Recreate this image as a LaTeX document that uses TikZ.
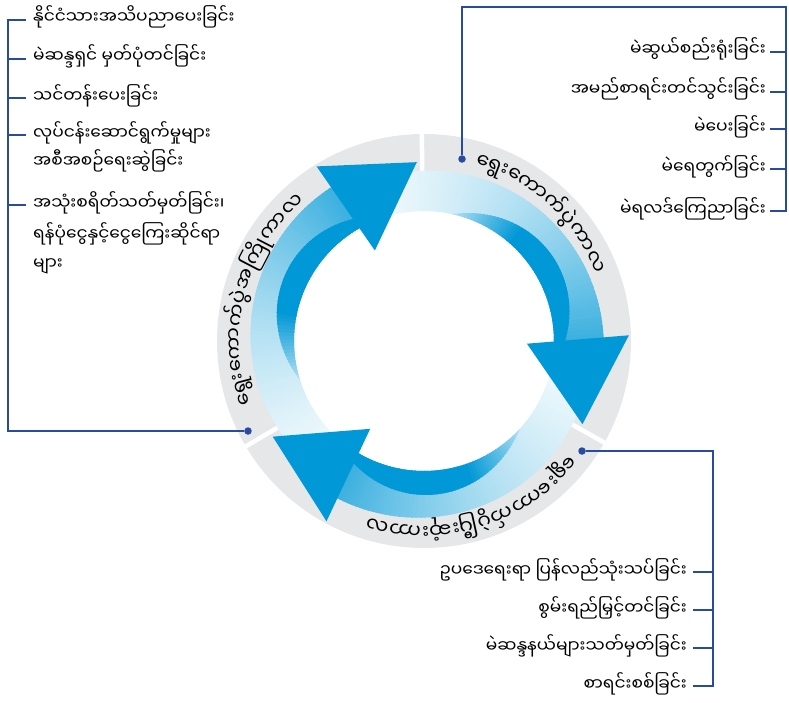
\documentclass[tikz,border=0pt]{standalone}
\usepackage{fontspec}
\newfontfamily\mmfont[Script=Myanmar]{Noto Sans Myanmar UI}

\definecolor{ringgray}{RGB}{230,231,232}
\definecolor{arrowblue}{RGB}{0,152,214}
\definecolor{linkblue}{RGB}{40,75,160}

\newcommand\ringfont{\mmfont\fontsize{20}{22}\selectfont}
\newlength\sylwd

% text set syllable by syllable along a clockwise arc
\newcommand\ringlabel[4]{%
  \xdef\curang{#2}%
  \foreach \syl [count=\k] in {#3}{%
    \pgfinterruptpicture\settowidth\sylwd{\ringfont\syl}\global\sylwd=\sylwd\endpgfinterruptpicture
    \pgfmathsetmacro\halfang{\sylwd/2/#1*180/pi}%
    \pgfmathsetmacro\midang{\curang-\halfang}%
    \node[ringtext, rotate=\midang-90] (#4\k) at (\midang:#1) {\syl};%
    \pgfmathsetmacro\nextang{\curang-2*\halfang}%
    \xdef\curang{\nextang}%
  }%
}

% one arrow body, light at the tail, head base at angle #1
\newcommand\swirl[1]{%
  \foreach \i in {0,...,79}{%
    \pgfmathsetmacro\ta{\i/80}%
    \pgfmathsetmacro\tb{(\i+1)/80}%
    \pgfmathsetmacro\aa{#1+112-114*\ta}%
    \pgfmathsetmacro\ab{#1+112-114*\tb-0.8}%
    \pgfmathsetmacro\roa{168+12*\ta}%
    \pgfmathsetmacro\rob{168+12*\tb}%
    \pgfmathsetmacro\pale{5+75*(0.6*\ta*\ta+0.4*\ta)}%
    \fill[arrowblue!\pale!white] (\aa:130) -- (\aa:\roa) -- (\ab:\rob) -- (\ab:130) -- cycle;
  }%
  % darker inner crescent
  \foreach \i in {24,...,79}{%
    \pgfmathsetmacro\ta{\i/80}%
    \pgfmathsetmacro\tb{(\i+1)/80}%
    \pgfmathsetmacro\aa{#1+112-114*\ta}%
    \pgfmathsetmacro\ab{#1+112-114*\tb-0.8}%
    \pgfmathsetmacro\rda{130+max(0,24*sin(225*(\ta-0.3)))}%
    \pgfmathsetmacro\rdb{130+max(0,24*sin(225*(\tb-0.3)))}%
    \pgfmathsetmacro\deep{min(100,30+280*max(0,\ta-0.3))}%
    \fill[arrowblue!\deep!white] (\aa:130) -- (\aa:\rda) -- (\ab:\rdb) -- (\ab:130) -- cycle;
  }%
}

\tikzset{
  link/.style={draw=linkblue, line width=1.6pt},
  linkdot/.style={circle, fill=linkblue, inner sep=0pt, minimum size=7.5pt},
  item/.style={font=\mmfont\fontsize{17}{20}\selectfont, inner sep=0pt, text height=12.5pt, text depth=4.5pt},
  ringtext/.style={font=\ringfont, inner sep=0pt, anchor=base},
}

\begin{document}
\begin{tikzpicture}[x=1pt,y=1pt]
  \useasboundingbox (-424,-361) rectangle (365,341);

  % ring
  \fill[ringgray, even odd rule] (0,0) circle (207) (0,0) circle (150);
  \foreach \a in {90.6,-29.4,210.6}
    \draw[white, line width=4.5pt] (\a:145) -- (\a:212);

  % arrows
  \swirl{0}
  \swirl{-120}
  \swirl{120}
  \foreach \rot in {0,-120,120}
    \fill[arrowblue] ({\rot+1.6}:205) -- ({\rot-1.5}:103) -- ({\rot-27.7}:179) -- cycle;

  % phase names
  \ringlabel{182}{74}{ရွေး,ကော,က်,ပွဲ,ကာ,လ}{el}
  \ringlabel{182}{200}{ရွေး,ကော,က်,ပွဲ,အ,ကြို,ကာ,လ}{pre}
  \ringlabel{182}{-38}{ရွေး,ကော,က်,ပွဲ,ပြီး,ဆုံး,ကာ,လ}{post}

  % pre-election
  \node[linkdot] (predot) at (-176,-90) {};
  \coordinate (prebar) at (-416,321);
  \node[item, anchor=west] (pre1) at (-391,321) {နိုင်ငံသားအသိပညာပေးခြင်း};
  \node[item, anchor=west] (pre2) at (-391,282) {မဲဆန္ဒရှင် မှတ်ပုံတင်ခြင်း};
  \node[item, anchor=west] (pre3) at (-391,243) {သင်တန်းပေးခြင်း};
  \node[item, anchor=west] (pre4) at (-391,206) {လုပ်ငန်းဆောင်ရွက်မှုများ};
  \node[item, anchor=west] (pre4b) at (-391,178) {အစီအစဉ်ရေးဆွဲခြင်း};
  \node[item, anchor=west] (pre5) at (-391,136) {အသုံးစရိတ်သတ်မှတ်ခြင်း၊};
  \node[item, anchor=west] (pre5b) at (-391,105) {ရန်ပုံငွေနှင့်ငွေကြေးဆိုင်ရာ};
  \node[item, anchor=west] (pre5c) at (-391,76) {များ};
  \draw[link] (predot) -| (prebar) -- ([xshift=-7pt]pre1.west);
  \foreach \n in {2,...,5}
    \draw[link] (prebar |- pre\n) -- ([xshift=-7pt]pre\n.west);

  % election
  \node[linkdot] (eldot) at (38,182) {};
  \coordinate (elbend) at (38,334);
  \coordinate (elbar) at (362,334);
  \node[item, anchor=east] (el1) at (342,289) {မဲဆွယ်စည်းရုံးခြင်း};
  \node[item, anchor=east] (el2) at (342,249) {အမည်စာရင်းတင်သွင်းခြင်း};
  \node[item, anchor=east] (el3) at (342,212) {မဲပေးခြင်း};
  \node[item, anchor=east] (el4) at (342,172) {မဲရေတွက်ခြင်း};
  \node[item, anchor=east] (el5) at (342,130) {မဲရလဒ်ကြေညာခြင်း};
  \draw[link] (eldot) -- (elbend) -- (elbar) -- (elbar |- el5) -- ([xshift=4pt]el5.east);
  \foreach \n in {1,...,4}
    \draw[link] (elbar |- el\n) -- ([xshift=4pt]el\n.east);

  % post-election
  \node[linkdot] (postdot) at (158,-110) {};
  \coordinate (postbar) at (289,-110);
  \node[item, anchor=east] (post1) at (263,-231) {ဥပဒေရေးရာ ပြန်လည်သုံးသပ်ခြင်း};
  \node[item, anchor=east] (post2) at (263,-269) {စွမ်းရည်မြှင့်တင်ခြင်း};
  \node[item, anchor=east] (post3) at (263,-307) {မဲဆန္ဒနယ်များသတ်မှတ်ခြင်း};
  \node[item, anchor=east] (post4) at (263,-345) {စာရင်းစစ်ခြင်း};
  \draw[link] (postdot) -- (postbar) |- ([xshift=6pt]post4.east);
  \foreach \n in {1,...,3}
    \draw[link] (postbar |- post\n) -- ([xshift=6pt]post\n.east);
\end{tikzpicture}
\end{document}
